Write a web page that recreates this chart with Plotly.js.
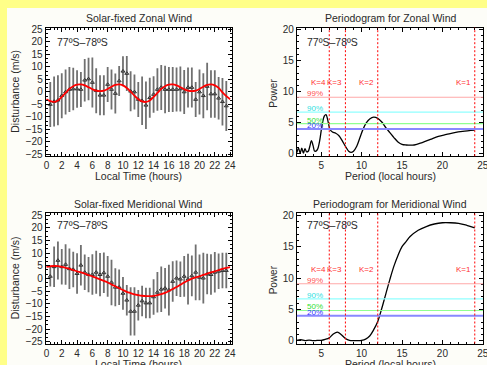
<!DOCTYPE html>
<html>
<head>
<meta charset="utf-8">
<script src="https://cdn.plot.ly/plotly-3.0.1.min.js"></script>
<style>
html,body{margin:0;padding:0;background:#ffff88;width:487px;height:365px;overflow:hidden;}
#chart{position:absolute;left:7px;top:8px;width:480px;height:357px;}
</style>
</head>
<body>
<div id="chart"></div>
<script>
// ---------- data ----------
const obsHours = [0.5,1,1.5,2,2.5,3,3.5,4,4.5,5,5.5,6,6.5,7,7.5,8,8.5,9,9.5,10,10.5,11,11.5,12,12.5,13,13.5,14,14.5,15,15.5,16,16.5,17,17.5,18,18.5,19,19.5,20,20.5,21,21.5,22,22.5,23,23.5];
const zonalObs = [-5.0,-3.8,-3.3,-1.5,0,1.0,1.2,1.2,1.0,4.7,5.2,3.8,0.5,-1.3,-1.3,3.0,1.0,-0.6,4.4,8.3,7.4,0.3,0.0,-3.0,-3.5,-5.3,-2.3,-1.0,1.0,1.8,1.0,1.0,1.0,1.0,1.2,0.0,1.8,1.8,-3.0,0.0,-1.5,2.2,-0.8,-0.8,-2.5,-3.9,-5.6];
const zonalErr = [9,10,10,9,9,9,8.5,7.5,7,8.5,8.5,10,9,8,8,7,8,8,6,6,7,8,7,7,9.7,9.5,8,7.3,8.5,9,9.5,9,9,8.8,9,8.8,8,8,7,9,9,9.5,9.5,9.5,8.5,9.5,10];
const meridObs = [0.8,4.6,7.1,4.6,5.5,3.8,3.5,1.9,5.2,2.4,1.5,1.5,2.4,1.5,2.2,0.8,-1.6,-3.5,-3.5,-5.9,-8.6,-13.0,-13.0,-10.6,-8.9,-9.7,-9.7,-7.3,-5.5,-4.3,-3.9,-4.6,-1.2,0.1,-0.3,0.8,-0.3,1.0,2.4,0.4,0.1,1.7,1.5,2.4,2.8,3.1,3.1];
const meridErr = [4,8,7.5,7,8,8,7,8,8,7,7,8,8.5,8.5,8,8,9,7.5,7,6.5,6,9.5,9.5,6,6,6,6,7,8,9,8,10,8,7,7,8,10,8,11,9,10,8,8,8,7,7,7];

const fitHours = [0,0.5,1,1.5,2,2.5,3,3.5,4,4.5,5,5.5,6,6.5,7,7.5,8,8.5,9,9.5,10,10.5,11,11.5,12,12.5,13,13.5,14,14.5,15,15.5,16,16.5,17,17.5,18,18.5,19,19.5,20,20.5,21,21.5,22,22.5,23,23.5,24];
const zonalFit = [-2.9,-3.7,-4.0,-3.4,-2.0,-0.4,1.2,2.3,2.9,3.0,2.6,1.9,1.1,0.5,0.3,0.5,1.2,2.1,2.8,3.0,2.6,1.6,0.1,-1.5,-2.9,-3.8,-4.0,-3.4,-2.0,-0.4,1.2,2.3,2.9,3.0,2.6,1.9,1.1,0.5,0.3,0.5,1.2,2.1,2.8,3.0,2.6,1.6,-0.2,-1.7,-2.9];
const meridFit = [4.6,4.8,4.9,4.85,4.6,4.2,3.8,3.3,2.8,2.4,1.9,1.3,0.8,0.2,-0.4,-1.0,-1.6,-2.4,-3.1,-3.9,-4.6,-5.3,-5.8,-6.3,-6.6,-6.85,-7.0,-7.0,-6.9,-6.6,-6.2,-5.7,-5.0,-4.2,-3.4,-2.5,-1.6,-0.8,-0.1,0.4,0.8,1.4,1.9,2.4,2.8,3.3,3.8,4.2,4.5];

const zonalPeriod = [2.0,2.2,2.4,2.6,2.8,3.0,3.2,3.4,3.6,3.8,4.0,4.2,4.5,4.8,5.1,5.4,5.6,5.8,6.1,6.4,6.8,7.2,7.6,8.0,8.4,8.7,9.0,9.4,9.8,10.2,10.6,11.0,11.5,12.0,12.5,13.0,13.5,14.0,14.5,15.0,15.5,16.5,17.5,18.5,19.5,20.5,21.5,22.5,24.0];
const zonalPower  = [0.2,0.9,0.1,0.9,0.1,0.8,0.3,0.4,1.2,2.1,1.3,0.4,0.6,2.0,4.5,6.1,6.3,5.5,3.9,3.5,3.3,2.9,2.1,1.2,0.4,0.2,0.4,1.2,2.6,4.0,5.0,5.6,5.9,5.7,5.1,4.2,3.4,2.6,1.9,1.5,1.4,1.4,1.8,2.3,2.8,3.1,3.4,3.6,3.8];
const meridPeriod = [2.0,2.5,3.0,3.5,4.0,4.5,5.0,5.5,6.0,6.5,7.0,7.5,8.0,8.5,9.0,9.5,10.0,10.5,11.0,11.5,12.0,12.5,13.0,13.5,14.0,14.5,15.0,15.5,16.0,17.0,18.0,19.0,20.0,21.0,22.0,23.0,24.0];
const meridPower  = [0.1,0.2,0.05,0.15,0.05,0.1,0.1,0.25,0.5,1.1,1.4,1.0,0.4,0.1,0.05,0.05,0.1,0.3,0.8,1.8,3.1,5.2,7.5,9.8,11.9,13.6,15.0,15.8,16.6,17.6,18.2,18.6,18.8,18.8,18.7,18.4,18.0];

const sigLevels = [9.1, 6.7, 4.85, 4.0];
const sigLabels = ['99%','90%','50%','20%'];
const sigTextColors = ['#ff5050','#30e0e0','#30e030','#3030ff'];
const sigLineColors = ['#ffa8a8','#90ffff','#90ff90','#8888ff'];
const sigLineWidths = [1.2,1.2,1.2,2];
const harmonicPeriods = [6, 8, 12, 24];
const harmonicLabels = ['K=4','K=3','K=2','K=1'];
const regionLabel = '77ºS–78ºS';

// ---------- layout ----------
const FONT = 'Liberation Sans, Arial, sans-serif';
const TXT = '#2a2a2a';
function axisBase(extra){
  return Object.assign({
    showline:true, mirror:'ticks', linecolor:'#000', linewidth:1,
    ticks:'inside', ticklen:4, tickcolor:'#000', tickwidth:1,
    showgrid:false, zeroline:false, ticklabeloverflow:'allow',
    tickfont:{family:FONT,size:10,color:TXT}
  }, extra);
}
const xL = [0.0806, 0.468], xR = [0.604, 0.9917];
const yT = [0.5849, 0.9448], yB = [0.0602, 0.4249];

const windX = {range:[-0.1,24.2], tick0:0, dtick:2, minor:{dtick:0.5, ticklen:2, ticks:'inside', tickcolor:'#000', showgrid:false}};
const windY = {range:[-25.7,25.7], tick0:0, dtick:5, minor:{dtick:5/3, ticklen:2, ticks:'inside', tickcolor:'#000', showgrid:false}};
const perX = {range:[2,25.02], tick0:0, dtick:5, minor:{dtick:1, ticklen:2, ticks:'inside', tickcolor:'#000', showgrid:false}};
const perY = {range:[-0.4,20.3], tick0:0, dtick:5, minor:{dtick:1, ticklen:2, ticks:'inside', tickcolor:'#000', showgrid:false}};

const layout = {
  width:480, height:357, margin:{l:0,r:0,t:0,b:0},
  paper_bgcolor:'#fdfdf8', plot_bgcolor:'#ffffff', showlegend:false,
  font:{family:FONT,color:TXT},
  xaxis: axisBase(Object.assign({domain:xL, anchor:'y'}, windX)),
  yaxis: axisBase(Object.assign({domain:yT, anchor:'x'}, windY)),
  xaxis2: axisBase(Object.assign({domain:xR, anchor:'y2'}, perX)),
  yaxis2: axisBase(Object.assign({domain:yT, anchor:'x2'}, perY)),
  xaxis3: axisBase(Object.assign({domain:xL, anchor:'y3'}, windX)),
  yaxis3: axisBase(Object.assign({domain:yB, anchor:'x3'}, windY)),
  xaxis4: axisBase(Object.assign({domain:xR, anchor:'y4'}, perX)),
  yaxis4: axisBase(Object.assign({domain:yB, anchor:'x4'}, perY)),
  shapes:[], annotations:[]
};

function txt(text, x, y, size, opts){
  return Object.assign({text:text, x:x, y:y, xref:'paper', yref:'paper', showarrow:false,
    xanchor:'center', yanchor:'middle', font:{family:FONT,size:size,color:TXT}}, opts||{});
}
// titles
layout.annotations.push(txt('Solar-fixed Zonal Wind', 0.2744, 0.9728, 10.5));
layout.annotations.push(txt('Periodogram for Zonal Wind', 0.798, 0.9728, 10.5));
layout.annotations.push(txt('Solar-fixed Meridional Wind', 0.2744, 0.451, 10.5));
layout.annotations.push(txt('Periodogram for Meridional Wind', 0.798, 0.451, 10.5));
// axis titles
layout.annotations.push(txt('Local Time (hours)', 0.2744, 0.529, 10.5));
layout.annotations.push(txt('Period (local hours)', 0.798, 0.529, 10.5));
layout.annotations.push(txt('Local Time (hours)', 0.2744, 0.004, 10.5));
layout.annotations.push(txt('Period (local hours)', 0.798, 0.004, 10.5));
layout.annotations.push(txt('Disturbance (m/s)', 0.0167, 0.7655, 10.5, {textangle:-90}));
layout.annotations.push(txt('Disturbance (m/s)', 0.0167, 0.2429, 10.5, {textangle:-90}));
layout.annotations.push(txt('Power', 0.5548, 0.761, 10, {textangle:-90}));
layout.annotations.push(txt('Power', 0.5548, 0.238, 10, {textangle:-90}));
// region labels
[['x','y',0.889],['x2','y2',0.889],['x3','y3',0.91],['x4','y4',0.91]].forEach(function(p){
  layout.annotations.push({text:regionLabel, xref:p[0]+' domain', yref:p[1]+' domain', x:(p[0]==='x'||p[0]==='x3')?0.05:0.043, y:p[2],
    xanchor:'left', yanchor:'middle', showarrow:false, font:{family:FONT,size:10.5,color:TXT}});
});
// periodogram decorations
[['x2','y2'],['x4','y4']].forEach(function(p){
  sigLevels.forEach(function(lv,i){
    layout.shapes.push({type:'line', xref:p[0]+' domain', yref:p[1], x0:0, x1:1, y0:lv, y1:lv,
      line:{color:sigLineColors[i], width:sigLineWidths[i]}});
    layout.annotations.push({text:sigLabels[i], xref:p[0], yref:p[1], x:3.0, y:lv, xanchor:'left', yanchor:'middle',
      yshift:3.5, showarrow:false, font:{family:FONT,size:8,color:sigTextColors[i]}});
  });
  harmonicPeriods.forEach(function(per,i){
    layout.shapes.push({type:'line', xref:p[0], yref:p[1]+' domain', x0:per, x1:per, y0:0, y1:1,
      line:{color:'#ff0000', width:1, dash:'2px,2px'}});
    layout.annotations.push({text:harmonicLabels[i], xref:p[0], yref:p[1], x:per, y:11.4, xanchor:'right', yanchor:'middle',
      xshift:-1.5, showarrow:false, font:{family:FONT,size:8,color:'#ff3030'}});
  });
});

function obsTrace(x,y,e,xa,ya){
  return {x:x, y:y, xaxis:xa, yaxis:ya, type:'scatter', mode:'markers',
    marker:{symbol:'triangle-up-open', size:3.5, color:'#333', line:{width:1,color:'#333'}},
    error_y:{type:'data', array:e, visible:true, width:0, thickness:1.8, color:'#707070'}};
}
function lineTrace(x,y,xa,ya,color,w){
  return {x:x, y:y, xaxis:xa, yaxis:ya, type:'scatter', mode:'lines',
    line:{color:color, width:w, shape:'spline', smoothing:1}};
}
const data = [
  obsTrace(obsHours, zonalObs, zonalErr, 'x', 'y'),
  lineTrace(fitHours, zonalFit, 'x', 'y', '#ff0000', 1.8),
  lineTrace(zonalPeriod, zonalPower, 'x2', 'y2', '#000', 1.3),
  obsTrace(obsHours, meridObs, meridErr, 'x3', 'y3'),
  lineTrace(fitHours, meridFit, 'x3', 'y3', '#ff0000', 1.8),
  lineTrace(meridPeriod, meridPower, 'x4', 'y4', '#000', 1.3)
];
Plotly.newPlot('chart', data, layout, {displayModeBar:false, staticPlot:true});
</script>
</body>
</html>
